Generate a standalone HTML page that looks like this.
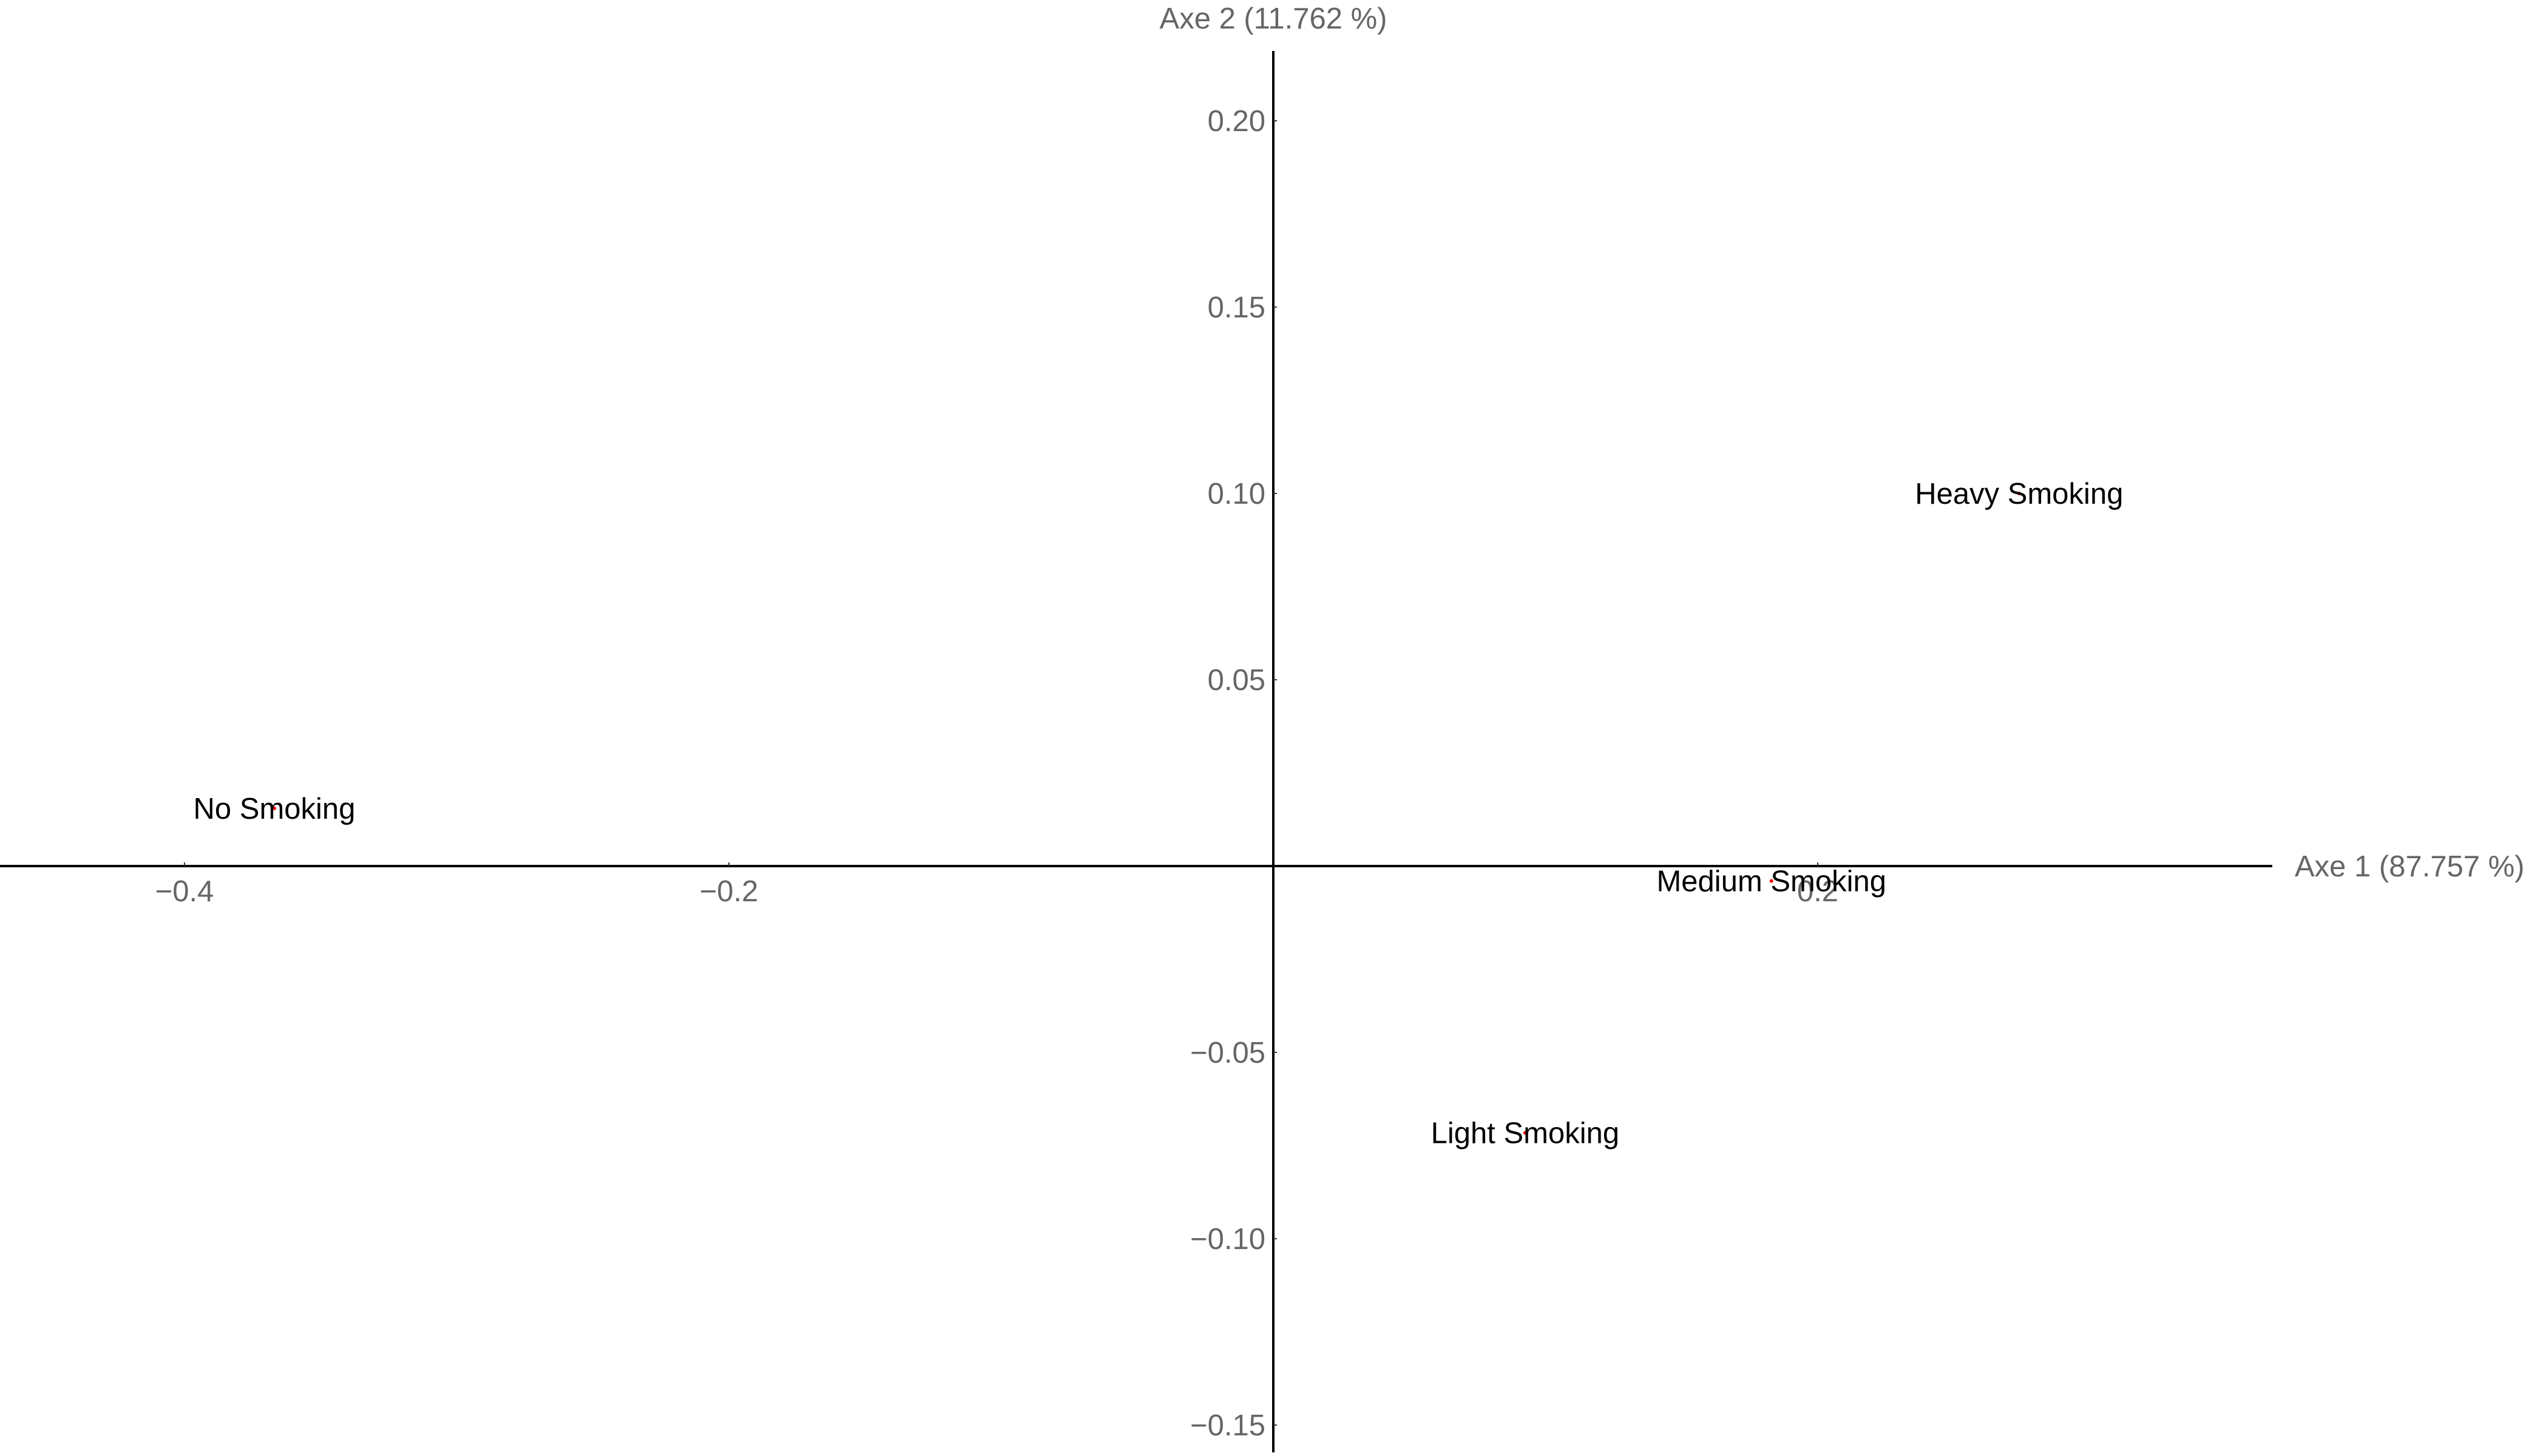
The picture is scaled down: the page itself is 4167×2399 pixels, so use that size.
<!DOCTYPE html>
<html><head><meta charset="utf-8"><style>
html,body{margin:0;padding:0;background:#fff;}
svg{display:block;font-family:"Liberation Sans",sans-serif;}
</style></head><body>
<svg id="chart" width="4167" height="2399" viewBox="0 0 4167 2399" xmlns="http://www.w3.org/2000/svg"></svg>
<script>
const categories = ["No Smoking", "Light Smoking", "Medium Smoking", "Heavy Smoking"];
const dim1Values = [-0.367, 0.0925, 0.183, 0.274];
const dim2Values = [0.0155, -0.0716, -0.004, 0.100];
const xTickValues = [-0.4, -0.2, 0.2];
const xTickLabels = ["\u22120.4", "\u22120.2", "0.2"];
const yTickValues = [0.20, 0.15, 0.10, 0.05, -0.05, -0.10, -0.15];
const yTickLabels = ["0.20", "0.15", "0.10", "0.05", "\u22120.05", "\u22120.10", "\u22120.15"];

const NS = "http://www.w3.org/2000/svg";
const svg = document.getElementById("chart");
const X0 = 2098, Y0 = 1427, XS = 4485, YS = 6140;
function sx(v){ return X0 + v * XS; }
function sy(v){ return Y0 - v * YS; }
function mk(tag, attrs){ const e = document.createElementNS(NS, tag); for (const k in attrs) e.setAttribute(k, attrs[k]); svg.appendChild(e); return e; }

let e;
e = mk("line", {x1: 0, y1: Y0, x2: 3744, y2: Y0, stroke: "#000", "stroke-width": 4});


e = mk("line", {x1: X0, y1: 84, x2: X0, y2: 2393, stroke: "#000", "stroke-width": 4});



xTickValues.forEach((v, i) => {
  const t = mk("line", {x1: sx(v), y1: Y0 - 6, x2: sx(v), y2: Y0, stroke: "#333", "stroke-width": 2});
  
  
  const l = mk("text", {x: sx(v), y: Y0 + 58, "text-anchor": "middle", "font-size": 49, fill: "#666"});
  l.textContent = xTickLabels[i];
  
  
});
yTickValues.forEach((v, i) => {
  const t = mk("line", {x1: X0, y1: sy(v), x2: X0 + 6, y2: sy(v), stroke: "#333", "stroke-width": 2});
  
  
  const l = mk("text", {x: 2085, y: sy(v) + 17, "text-anchor": "end", "font-size": 49, fill: "#666"});
  l.textContent = yTickLabels[i];
  
  
});

e = mk("text", {x: X0, y: 47, "text-anchor": "middle", "font-size": 49, fill: "#666"});
e.textContent = "Axe 2 (11.762 %)";


e = mk("text", {x: 3781, y: Y0 + 17, "text-anchor": "start", "font-size": 49, fill: "#666"});
e.textContent = "Axe 1 (87.757 %)";



categories.forEach((c, i) => {
  const p = mk("circle", {cx: sx(dim1Values[i]), cy: sy(dim2Values[i]), r: 3, fill: "#ff0000"});
  
  
});
categories.forEach((c, i) => {
  const l = mk("text", {x: sx(dim1Values[i]), y: sy(dim2Values[i]) + 17, "text-anchor": "middle", "font-size": 49, fill: "#000"});
  l.textContent = c;
  
  
});
</script>
</body></html>
